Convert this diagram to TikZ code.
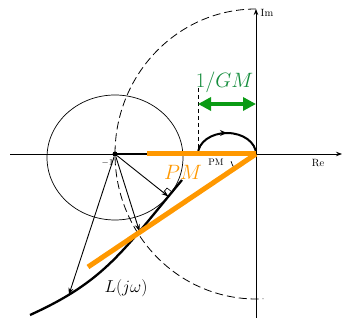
\documentclass[tikz,border=0pt]{standalone}
\usetikzlibrary{arrows.meta,decorations.markings,calc}
\definecolor{orng}{RGB}{255,152,0}
\definecolor{grn}{RGB}{10,155,20}
\definecolor{grntxt}{RGB}{20,140,60}
\begin{document}
\begin{tikzpicture}[x=1pt,y=1pt,
  axis/.style={line width=0.8pt,-{Stealth[length=6pt,width=4.5pt]}},
  vec/.style={line width=0.9pt,-{Stealth[length=7pt,width=5pt]}},
  dashcirc/.style={line width=0.8pt,dash pattern=on 8pt off 4pt},
  orangeline/.style={orng,line width=5pt},
  small/.style={font=\fontsize{9.5}{10}\selectfont}]
\useasboundingbox (0,0) rectangle (343,321);
% key points
\coordinate (O) at (256,167);
\coordinate (reL) at (10,167);
\coordinate (reR) at (342,167);
\coordinate (imB) at (256,3);
\coordinate (imT) at (256,312);
\coordinate (GMpt) at (198,167);
\coordinate (GMtop) at (198,233);
\coordinate (PMstart) at (147,167);
\coordinate (PMend) at (88,54);
\coordinate (GMl) at (198,217);
\coordinate (GMr) at (256,217);
% dashed unit circle
\draw[dashcirc] (O) ++(90:141 and 145) arc[start angle=90,end angle=273,x radius=141,y radius=145];
% circle around -1
\draw[line width=0.7pt] (115,163.5) ellipse [x radius=68,y radius=62.5];
% axes
\draw[axis] (reL) -- (reR);
\draw[axis] (imB) -- (imT);
% -1 point
\node[circle,fill,inner sep=0pt,minimum size=5pt] (M1) at (115,167) {};
\draw[line width=1.8pt] (M1.center) -- (PMstart);
% GM dashed line
\draw[line width=0.7pt,dash pattern=on 4pt off 3pt] (GMtop) -- (GMpt);
% Nyquist curve
\draw[line width=2.3pt] (30,6) .. controls (105,40) and (122,69) .. (182,141)
  coordinate[pos=0.2] (c3) coordinate[pos=0.72] (c2) coordinate[pos=0.92] (c1);
\draw[line width=2pt,postaction={decorate},
  decoration={markings,mark=at position 0.5 with {\arrow{Stealth[length=7pt,width=6pt]}}}]
  (GMpt) arc[start angle=180,end angle=0,x radius=29,y radius=21];
% vectors from -1
\draw[vec] (M1) -- (c1);
\draw[vec] (M1) -- (c2);
\draw[vec] (M1) -- (c3);
% right-angle mark
\draw[line width=0.6pt] (163.3,128.3) -- (167.0,133.0) -- (171.7,129.2);
% PM angle mark
\draw[line width=0.7pt] (O) ++(196:26) arc[start angle=196,end angle=212,radius=26];
% orange
\draw[orangeline] (PMstart) -- (O);
\draw[orangeline] (O) -- (PMend);
% green arrow
\draw[grn,line width=4pt,{Triangle[length=13pt,width=13pt]}-{Triangle[length=13pt,width=13pt]}] (GMl) -- (GMr);
% labels
\node[font=\fontsize{20}{20}\selectfont,text=grntxt] (gm) at (224.5,239) {$1/GM$};
\node[font=\fontsize{21}{21}\selectfont,text=orng] (pm) at (183,149) {$PM$};
\node[small] (pms) at (216,159) {PM};
\node[small] (m1) at (107.5,157.5) {$-1$};
\node[font=\fontsize{10.5}{11}\selectfont] (re) at (318,158) {Re};
\node[font=\fontsize{10.5}{11}\selectfont] (im) at (267,308) {Im};
\node[font=\fontsize{17}{17}\selectfont] (L) at (126,33) {$L(j\omega)$};
\end{tikzpicture}
\end{document}
